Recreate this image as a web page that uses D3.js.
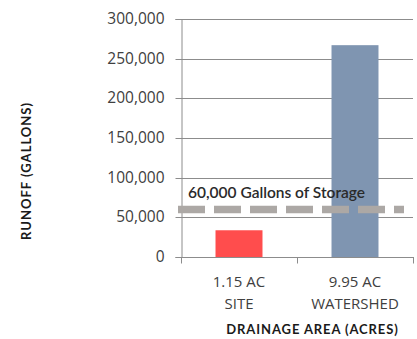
<!DOCTYPE html>
<html>
<head>
<meta charset="utf-8">
<script src="https://cdn.jsdelivr.net/npm/d3@7"></script>
<style>
  html, body { margin: 0; padding: 0; background: #fff; }
  svg { display: block; font-family: "Open Sans", Lato, sans-serif; }
</style>
</head>
<body>
<svg id="chart" width="417" height="339"></svg>
<script>
// Runoff volume per drainage area
const categories = ["1.15 AC\nSITE", "9.95 AC\nWATERSHED"];
const runoff = [33700, 267000];
const barColors = ["#ff4d4d", "#7f95b1"];
const yTickValues = [0, 50000, 100000, 150000, 200000, 250000, 300000];
const storageVolume = 60000;
const storageLabel = "60,000 Gallons of Storage";
const yTitle = "RUNOFF (GALLONS)";
const xTitle = "DRAINAGE AREA (ACRES)";

const svg = d3.select("#chart");
const plot = { left: 181, right: 413, top: 19, bottom: 257 };

const x = d3.scaleBand()
  .domain(categories)
  .range([plot.left, plot.right])
  .paddingInner(0.595)
  .paddingOuter(0.2975);

const y = d3.scaleLinear()
  .domain([0, 300000])
  .range([plot.bottom, plot.top]);

const fmt = d3.format(",");
const axisColor = "#8c8c8c";
const textColor = "#404040";
const crisp = v => Math.round(v) + 0.5;

// gridlines
svg.append("g")
  .selectAll("line")
  .data(yTickValues.filter(d => d > 0))
  .join("line")
  .attr("x1", plot.left).attr("x2", plot.right)
  .attr("y1", d => crisp(y(d))).attr("y2", d => crisp(y(d)))
  .attr("stroke", axisColor).attr("stroke-width", 1);

// y axis
const yAxis = svg.append("g")
  .attr("transform", `translate(${plot.left + 0.5},0)`)
  .call(d3.axisLeft(y).tickValues(yTickValues).tickFormat(fmt).tickSize(6).tickPadding(11));
yAxis.attr("font-family", null).attr("font-size", null);
yAxis.select(".domain").attr("stroke", axisColor);
yAxis.selectAll(".tick line").attr("stroke", axisColor);
yAxis.selectAll(".tick").attr("transform", d => `translate(0,${crisp(y(d))})`);
yAxis.selectAll(".tick text")
  .attr("fill", textColor)
  .style("font-size", "15.5px")
  .style("font-family", "'Open Sans', sans-serif");

// bars
svg.append("g")
  .selectAll("rect")
  .data(runoff)
  .join("rect")
  .attr("x", (d, i) => x(categories[i]))
  .attr("width", x.bandwidth())
  .attr("y", d => y(d))
  .attr("height", d => y(0) - y(d))
  .attr("fill", (d, i) => barColors[i]);

// x axis
const xAxisG = svg.append("g");
xAxisG.append("line")
  .attr("x1", plot.left).attr("x2", plot.right + 1)
  .attr("y1", crisp(y(0))).attr("y2", crisp(y(0)))
  .attr("stroke", axisColor);
const step = x.step();
const boundaries = d3.range(categories.length + 1).map(i => plot.left + i * step);
xAxisG.selectAll(".xt")
  .data(boundaries)
  .join("line")
  .attr("class", "xt")
  .attr("x1", d => crisp(d)).attr("x2", d => crisp(d))
  .attr("y1", crisp(y(0))).attr("y2", crisp(y(0)) + 6)
  .attr("stroke", axisColor);

const xLabels = xAxisG.selectAll(".xl")
  .data(categories)
  .join("text")
  .attr("class", "xl")
  .attr("text-anchor", "middle")
  .attr("fill", textColor)
  .style("font-size", "15px");
xLabels.each(function(d) {
  const t = d3.select(this);
  d.split("\n").forEach((line, k) => {
    t.append("tspan")
      .attr("x", x(d) + x.bandwidth() / 2)
      .attr("y", 287 + k * 22)
      .text(line);
  });
});

// storage capacity reference line
svg.append("line")
  .attr("x1", plot.left - 3)
  .attr("x2", plot.right - 9)
  .attr("y1", y(storageVolume)).attr("y2", y(storageVolume))
  .attr("stroke", "#aca8a5")
  .attr("stroke-width", 7.5)
  .attr("stroke-dasharray", "27 9");

svg.append("text")
  .attr("x", plot.left + 7)
  .attr("y", y(storageVolume) - 11)
  .attr("fill", "#2a2a2a")
  .style("font-family", "Lato, sans-serif")
  .style("font-size", "15.5px")
  .style("font-weight", 600)
  .text(storageLabel);

// axis titles
svg.append("text")
  .attr("transform", `translate(31,${(plot.top + plot.bottom) / 2 + 33}) rotate(-90)`)
  .attr("text-anchor", "middle")
  .attr("fill", "#1a1a1a")
  .style("font-family", "Lato, sans-serif")
  .style("font-size", "13px")
  .style("letter-spacing", "1px")
  .style("font-weight", 700)
  .text(yTitle);

svg.append("text")
  .attr("x", 312.5)
  .attr("y", 334)
  .attr("text-anchor", "middle")
  .attr("fill", "#1a1a1a")
  .style("font-family", "Lato, sans-serif")
  .style("font-size", "13px")
  .style("letter-spacing", "0.9px")
  .style("font-weight", 700)
  .text(xTitle);
</script>
</body>
</html>
